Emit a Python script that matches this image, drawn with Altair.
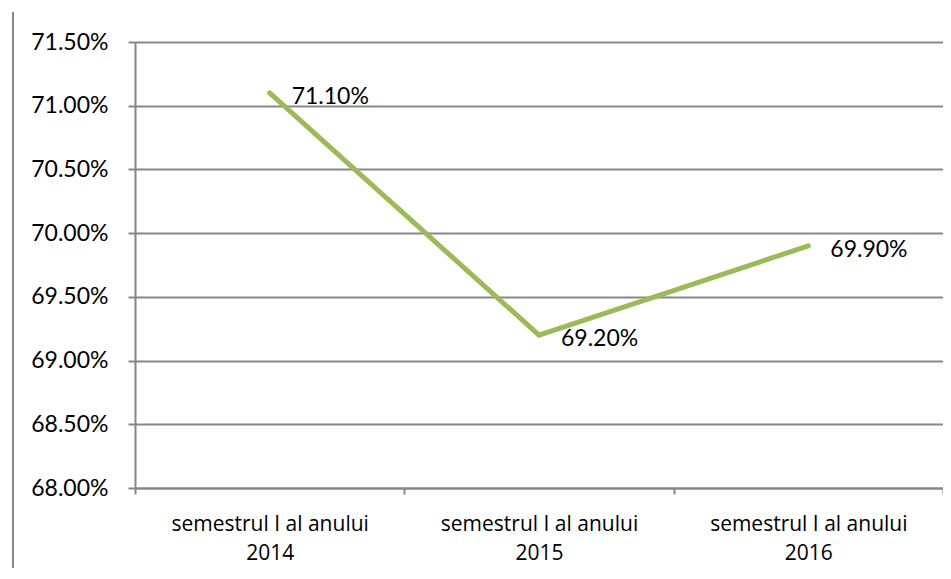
import altair as alt
import pandas as pd

categories = ["semestrul I al anului 2014", "semestrul I al anului 2015", "semestrul I al anului 2016"]
values = [0.711, 0.692, 0.699]
value_labels = ["71.10%", "69.20%", "69.90%"]

df = pd.DataFrame({"cat": categories, "val": values, "lab": value_labels})

FONT = "Lato"
XFONT = "Open Sans"
GRAY = "#878787"
W, H = 808, 446

x_enc = alt.X("cat:N", sort=categories, title=None,
              scale=alt.Scale(paddingInner=0, paddingOuter=0),
              axis=alt.Axis(labelAngle=0, tickBand="extent", grid=False,
                            labelFlush=False, labelOverlap=False, labelAlign="center",
                            labelBound=False, labelLimit=400,
                            tickSize=6, tickColor=GRAY, tickWidth=2,
                            domainColor=GRAY, domainWidth=2,
                            labelFont=XFONT, labelFontSize=21, labelColor="#000000",
                            labelPadding=19, labelLineHeight=29,
                            labelExpr="length(datum.label) > 22 ? ['semestrul I al anului', substring(datum.label, 22)] : ''"))
y_enc = alt.Y("val:Q", title=None,
              scale=alt.Scale(domain=[0.68, 0.715], nice=False, zero=False),
              axis=alt.Axis(values=[0.68, 0.685, 0.69, 0.695, 0.70, 0.705, 0.71, 0.715],
                            format=".2%", grid=True, gridColor=GRAY, gridWidth=2,
                            tickSize=7, tickColor=GRAY, tickWidth=2,
                            domainColor=GRAY, domainWidth=2,
                            labelFont=FONT, labelFontSize=23, labelColor="#000000",
                            labelPadding=20))

line = alt.Chart(df).mark_line(color="#9BBB59", strokeWidth=5, strokeCap="round").encode(x=x_enc, y=y_enc)
text = alt.Chart(df).mark_text(align="left", baseline="middle", dx=22, dy=4,
                               font=FONT, fontSize=23, color="#000000").encode(
    x=alt.X("cat:N", sort=categories), y="val:Q", text="lab:N")
frame = alt.Chart(df.head(1)).mark_rule(color=GRAY, strokeWidth=2).encode(
    x=alt.value(-122), y=alt.value(-30), y2=alt.value(H + 90))

chart = alt.layer(line, text, frame).properties(
    width=W, height=H,
    autosize=alt.AutoSizeParams(type="none"),
    padding={"left": 127, "top": 34, "right": 0, "bottom": 80},
).configure_view(stroke=None)

chart.save("out.html", embed_options={"renderer": "svg", "actions": False})
